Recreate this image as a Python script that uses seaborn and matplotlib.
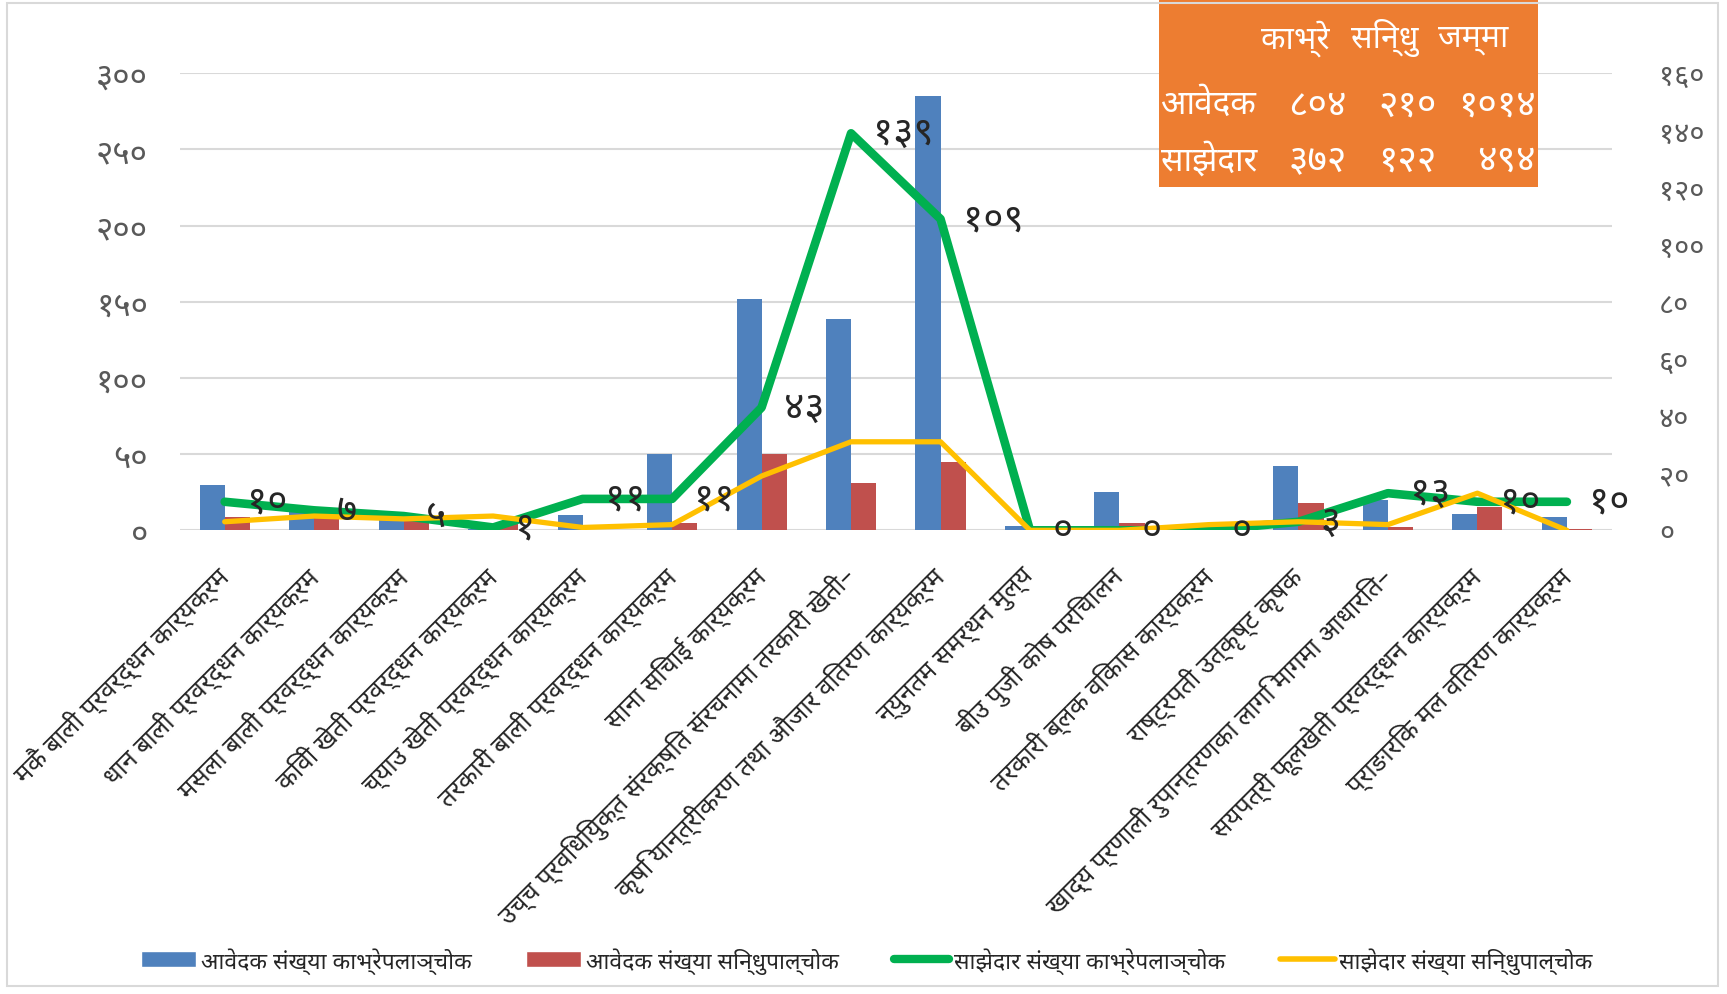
import numpy as np
import pandas as pd
import matplotlib
matplotlib.use("Agg")
import matplotlib.pyplot as plt
import seaborn as sns
from matplotlib import font_manager
from matplotlib.ft2font import FT2Font
from matplotlib.patches import Patch, Rectangle
from matplotlib.lines import Line2D

# ---------------- data ----------------
categories = [
    'मकै बाली प्रवर्द्धन कार्यक्रम',
    'धान बाली प्रवर्द्धन कार्यक्रम',
    'मसला बाली प्रवर्द्धन कार्यक्रम',
    'किवी खेती प्रवर्द्धन कार्यक्रम',
    'च्याउ खेती प्रवर्द्धन कार्यक्रम',
    'तरकारी बाली प्रवर्द्धन कार्यक्रम',
    'साना सिंचाई कार्यक्रम',
    'उच्च प्रविधियुक्त संरक्षित संरचनामा तरकारी खेती–',
    'कृषि यान्त्रीकरण तथा औजार वितरण कार्यक्रम',
    'न्युनतम समर्थन मुल्य',
    'बीउ पुजी कोष परिचालन',
    'तरकारी ब्लक विकास कार्यक्रम',
    'राष्ट्रपती उत्कृष्ट कृषक',
    'खाद्य प्रणाली रुपान्तरणका लागि मागमा आधारित–',
    'सयपत्री फूलखेती प्रवर्द्धन कार्यक्रम',
    'प्राङारिक मल वितरण कार्यक्रम',
]
applicants_kavre = [30, 12, 8, 1, 10, 50, 152, 139, 285, 3, 25, 0, 42, 20, 11, 9]
applicants_sindhu = [9, 8, 6, 4, 0, 5, 50, 31, 45, 0, 5, 0, 18, 2, 15, 1]
partners_kavre = [10, 7, 5, 1, 11, 11, 43, 139, 109, 0, 0, 0, 3, 13, 10, 10]
partners_sindhu = [3, 5, 4, 5, 1, 2, 19, 31, 31, 0, 0, 2, 3, 2, 13, 0]
partner_kavre_labels = ['१०', '७', '५', '१', '११', '११', '४३', '१३९', '१०९',
                        '०', '०', '०', '३', '१३', '१०', '१०']

series_names = ['आवेदक संख्या काभ्रेपलाञ्चोक', 'आवेदक संख्या सिन्धुपाल्चोक',
                'साझेदार संख्या काभ्रेपलाञ्चोक', 'साझेदार संख्या सिन्धुपाल्चोक']

left_ticks = [0, 50, 100, 150, 200, 250, 300]
left_tick_labels = ['०', '५०', '१००', '१५०', '२००', '२५०', '३००']
right_ticks = [0, 20, 40, 60, 80, 100, 120, 140, 160]
right_tick_labels = ['०', '२०', '४०', '६०', '८०', '१००', '१२०', '१४०', '१६०']

table_header = ['काभ्रे', 'सिन्धु', 'जम्मा']
table_row_labels = ['आवेदक', 'साझेदार']
table_applicants = ['८०४', '२१०', '१०१४']
table_partners = ['३७२', '१२२', '४९४']

# ---------------- style ----------------
BLUE, RED, GREEN, YELLOW = '#4F81BD', '#C0504D', '#00B050', '#FFC000'
ORANGE = '#ED7D31'
GRID = '#D9D9D9'

sns.set_theme(style='white')


def find_deva_font():
    preferred = ['Noto Sans Devanagari', 'Noto Serif Devanagari', 'Lohit Devanagari',
                 'Mukta', 'Hind', 'Kalimati', 'Gargi', 'Samanata', 'FreeSans',
                 'FreeSerif', 'Mangal', 'Nirmala UI']
    found = {}
    for fe in font_manager.fontManager.ttflist:
        if fe.name in found:
            continue
        try:
            cm = FT2Font(fe.fname).get_charmap()
            if 0x0915 in cm and 0x0967 in cm:
                found[fe.name] = fe.fname
        except Exception:
            pass
    for p in preferred:
        if p in found:
            return p
    return next(iter(found), None)


deva = find_deva_font()
families = ([deva] if deva else []) + ['DejaVu Sans']
plt.rcParams['font.family'] = families

# ---------------- figure ----------------
fig = plt.figure(figsize=(17.27, 9.95), dpi=100)
ax = fig.add_axes([0.1042, 0.466, 0.829, 0.4593])

df = pd.DataFrame({
    'cat': categories * 2,
    'val': applicants_kavre + applicants_sindhu,
    'series': [series_names[0]] * len(categories) + [series_names[1]] * len(categories),
})
sns.barplot(data=df, x='cat', y='val', hue='series', palette=[BLUE, RED],
            width=0.56, gap=0, saturation=1, errorbar=None, legend=False,
            linewidth=0, ax=ax)

ax.set_xlim(-0.5, len(categories) - 0.5)
ax.set_ylim(0, 300)
ax.set_yticks(left_ticks, left_tick_labels)
ax.tick_params(axis='y', length=0, pad=23, labelsize=24, labelcolor='#595959')
ax.set_xticks(range(len(categories)))
ax.set_xticklabels(categories, rotation=45, ha='right', va='center',
                   rotation_mode='anchor', fontsize=18.5, color='#262626')
ax.tick_params(axis='x', length=0, pad=30)
ax.set_xlabel('')
ax.set_ylabel('')
ax.yaxis.grid(True, color=GRID, linewidth=1.5)
ax.xaxis.grid(False)
ax.set_axisbelow(True)
for s in ax.spines.values():
    s.set_visible(False)

ax2 = ax.twinx()
xpos = np.arange(len(categories))
sns.lineplot(x=xpos, y=partners_kavre, ax=ax2, color=GREEN, linewidth=6.2,
             solid_capstyle='round', solid_joinstyle='round', legend=False)
sns.lineplot(x=xpos, y=partners_sindhu, ax=ax2, color=YELLOW, linewidth=3.8,
             solid_capstyle='round', solid_joinstyle='round', legend=False)
ax2.set_ylim(0, 160)
ax2.set_xlim(-0.5, len(categories) - 0.5)
ax2.set_yticks(right_ticks, right_tick_labels)
ax2.tick_params(axis='y', length=0, pad=34, labelsize=21, labelcolor='#595959')
ax2.set_ylabel('')
ax2.grid(False)
for s in ax2.spines.values():
    s.set_visible(False)

for i, (v, lab) in enumerate(zip(partners_kavre, partner_kavre_labels)):
    ax2.annotate(lab, (xpos[i], v), xytext=(16, 0), textcoords='offset points',
                 ha='left', va='center', fontsize=28, color='#262626')

# ---------------- summary table box ----------------
tab = fig.add_axes([0.6711, 0.8114, 0.2193, 0.1876])
tab.set_facecolor(ORANGE)
tab.set_xticks([])
tab.set_yticks([])
for s in tab.spines.values():
    s.set_visible(False)
tab.set_xlim(0, 1)
tab.set_ylim(0, 1)
for xc, h in zip([0.36, 0.595, 0.83], table_header):
    tab.text(xc, 0.80, h, ha='center', va='center', color='white', fontsize=23)
for yr, lab, vals in zip([0.44, 0.145], table_row_labels, [table_applicants, table_partners]):
    tab.text(0.004, yr, lab, ha='left', va='center', color='white', fontsize=24)
    for xr, v in zip([0.496, 0.734, 0.995], vals):
        tab.text(xr, yr, v, ha='right', va='center', color='white', fontsize=27)

# ---------------- legend ----------------
handles = [Patch(facecolor=BLUE), Patch(facecolor=RED),
           Line2D([0], [0], color=GREEN, lw=6, solid_capstyle='round'),
           Line2D([0], [0], color=YELLOW, lw=4, solid_capstyle='round')]
fig.legend(handles, series_names, loc='center', bbox_to_anchor=(0.502, 0.034),
           ncol=4, frameon=False, fontsize=16.5, handlelength=2.4,
           handletextpad=0.2, columnspacing=2.4, labelcolor='#262626')

# chart border
fig.add_artist(Rectangle((0.004, 0.008), 0.991, 0.988, transform=fig.transFigure,
                         fill=False, edgecolor=GRID, linewidth=1.5))

fig.savefig('out.png', dpi=100)
